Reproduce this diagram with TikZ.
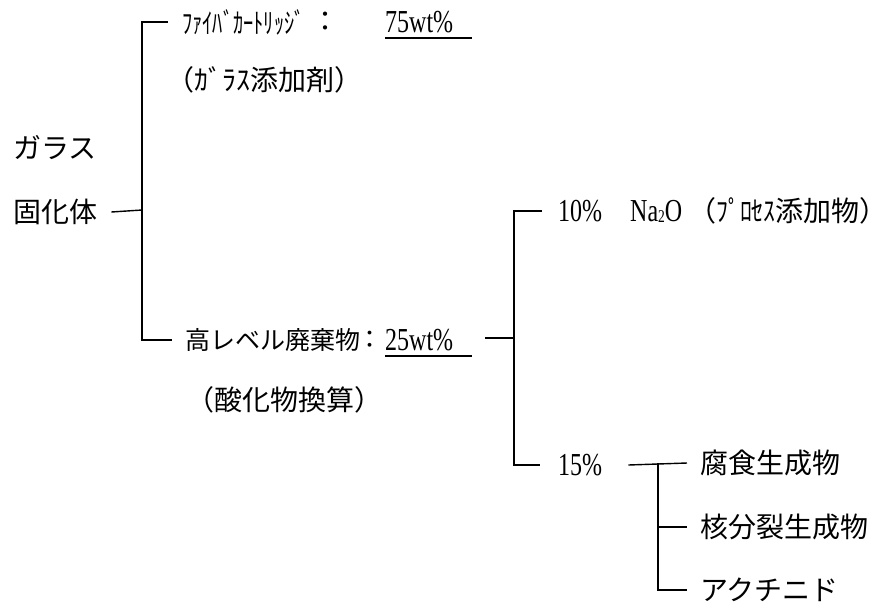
\documentclass[tikz,border=0pt]{standalone}
\usepackage{fontspec}
\usepackage{graphicx}
\setmainfont{Noto Sans CJK JP}
\newfontfamily\latf[FakeStretch=0.75]{Liberation Serif}
\newcommand\lat{\latf\fontsize{32}{34}\selectfont}
\newcommand\hk[2][0.73]{\scalebox{#1}[1]{#2}}
\begin{document}
\begin{tikzpicture}[x=1pt,y=-1pt,
  txt/.style={inner sep=0pt, anchor=west, font=\fontsize{28}{32}\selectfont},
  sm/.style={txt, font=\fontsize{25}{30}\selectfont},
  ln/.style={line width=1.4pt}]
\useasboundingbox[fill=white] (0,0) rectangle (886,603);
% left root
\node[txt] (garasu) at (13,148) {ガラス};
\node[txt] (kotai) at (13,212) {固化体};
\coordinate (j1) at (142,210);
% upper branch
\node[txt] (fiber) at (182,22) {\hk{ﾌｧｲﾊﾞｶｰﾄﾘｯｼﾞ}};
\node[txt] (col1) at (311,22) {：};
\node[txt] (p75) at (385,22) {\lat 75wt\%};
\node[txt] (add1) at (166,80) {（ｶﾞﾗｽ添加剤）};
% lower branch
\node[sm] (hlw) at (185,340) {高レベル廃棄物};
\node[sm] (col2) at (357,340) {：};
\node[txt] (p25) at (385,340) {\lat 25wt\%};
\node[txt] (sanka) at (186,400) {（酸化物換算）};
\coordinate (d2) at (485,338);
\coordinate (j2) at (514,338);
% second level
\node[txt] (p10) at (558,211) {\lat 10\%};
\node[txt] (na2o) at (630,211) {\lat Na\raisebox{-1pt}{\fontsize{18}{18}\selectfont 2}O};
\node[txt] (proc) at (688,211) {（\hk[0.85]{ﾌﾟﾛｾｽ}添加物）};
\node[txt] (p15) at (558,465) {\lat 15\%};
% third level
\coordinate (j3) at (658,463);
\node[txt] (fushoku) at (700,463) {腐食生成物};
\node[txt] (kaku) at (700,527) {核分裂生成物};
\node[txt] (akuti) at (700,590) {アクチニド};
% connectors
\draw[ln] ([xshift=14pt]kotai.east) -- (j1);
\draw[ln] ([xshift=-14pt]fiber.west) -| (j1) |- ([xshift=-13pt]hlw.west);
\draw[ln] ([yshift=-5pt]p75.south west) -- ++(87,0);
\draw[ln] ([yshift=-5pt]p25.south west) -- ++(87,0);
\draw[ln] (d2) -- (j2);
\draw[ln] ([xshift=-16pt]p10.west) -| (j2) |- ([xshift=-18pt]p15.west);
\draw[ln] ([xshift=26pt]p15.east) -- ([xshift=-13pt]fushoku.west);
\draw[ln] (j3) |- ([xshift=-13pt]akuti.west);
\draw[ln] (j3 |- kaku.west) -- ([xshift=-13pt]kaku.west);
\end{tikzpicture}
\end{document}
